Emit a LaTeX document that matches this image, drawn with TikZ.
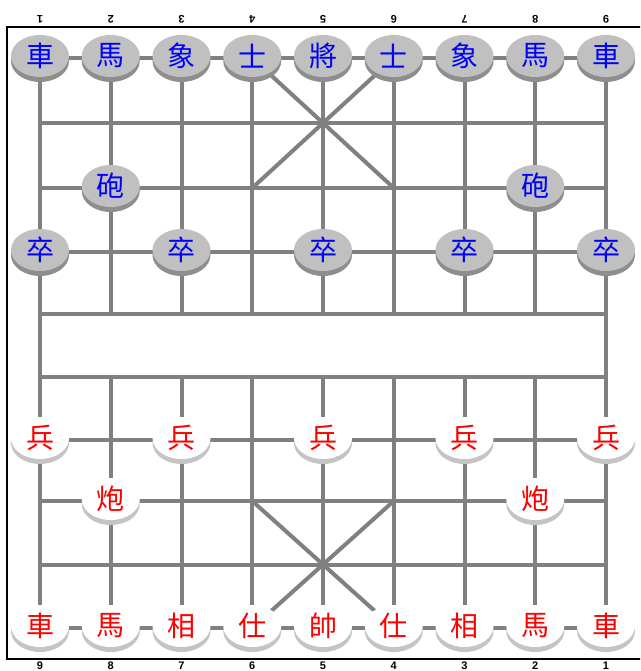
\documentclass[tikz,border=0pt]{standalone}
\usepackage{fontspec}
\setmainfont{Liberation Sans}
\newfontfamily\cjk{Noto Sans CJK TC}
\usetikzlibrary{shapes.geometric,shadows}
\definecolor{gridgray}{HTML}{808080}
\definecolor{pcgray}{HTML}{C0C0C0}
\definecolor{shgray}{HTML}{8E8E8E}
\definecolor{shlight}{HTML}{C4C4C4}
\definecolor{pcblue}{HTML}{0000FF}
\definecolor{pcred}{HTML}{FF0000}
\begin{document}
\begin{tikzpicture}[x=1pt,y=-1pt,
  gridline/.style={draw=gridgray,line width=4pt},
  frameline/.style={draw=black,line width=2.5pt},
  piece/.style={ellipse,minimum width=58pt,minimum height=42pt,inner sep=0pt,yshift=2pt,
    font=\cjk\fontsize{28}{28}\selectfont},
  bluepc/.style={piece,fill=pcgray,text=pcblue,general shadow={fill=shgray,shadow yshift=-5pt}},
  redpc/.style={piece,fill=white,text=pcred,general shadow={fill=shlight,shadow yshift=-5pt}},
  num/.style={font=\bfseries\fontsize{11}{11}\selectfont,inner sep=0pt}]
\clip (0,0) rectangle (640,671);
\fill[white] (0,0) rectangle (640,671);
% grid points
\foreach \y [count=\r from 0] in {58,123,188,252,314,377,440,501,565,628}{
  \foreach \c in {0,...,8}{\coordinate (g\c-\r) at ({40+70.75*\c},\y);}}
% frame
\draw[frameline] (7,27) rectangle (700,659);
% grid
\foreach \r in {0,...,9}{\draw[gridline] (g0-\r) -- (g8-\r);}
\draw[gridline] (g0-0) -- (g0-9);
\draw[gridline] (g8-0) -- (g8-9);
\foreach \c in {1,...,7}{\draw[gridline] (g\c-0) -- (g\c-4); \draw[gridline] (g\c-5) -- (g\c-9);}
\draw[gridline] (g3-0) -- (g5-2);
\draw[gridline] (g5-0) -- (g3-2);
\draw[gridline] (g3-7) -- (g5-9);
\draw[gridline] (g5-7) -- (g3-9);
% file numbers
\foreach \c [evaluate=\c as \n using int(\c+1), evaluate=\c as \m using int(9-\c)] in {0,...,8}{
  \node[num,rotate=180] (top\c) at ({40+70.75*\c},19) {\n};
  \node[num] (bot\c) at ({40+70.75*\c},665.5) {\m};}
% black (blue) pieces
\foreach \t [count=\c from 0] in {車,馬,象,士,將,士,象,馬,車}{
  \node[bluepc] (bk\c) at (g\c-0) {\t};}
\node[bluepc] (bc1) at (g1-2) {砲};
\node[bluepc] (bc7) at (g7-2) {砲};
\foreach \c in {0,2,4,6,8}{\node[bluepc] (bp\c) at (g\c-3) {卒};}
% red pieces
\foreach \c in {0,2,4,6,8}{\node[redpc] (rp\c) at (g\c-6) {兵};}
\node[redpc] (rc1) at (g1-7) {炮};
\node[redpc] (rc7) at (g7-7) {炮};
\foreach \t [count=\c from 0] in {車,馬,相,仕,帥,仕,相,馬,車}{
  \node[redpc] (rk\c) at (g\c-9) {\t};}
\end{tikzpicture}
\end{document}
